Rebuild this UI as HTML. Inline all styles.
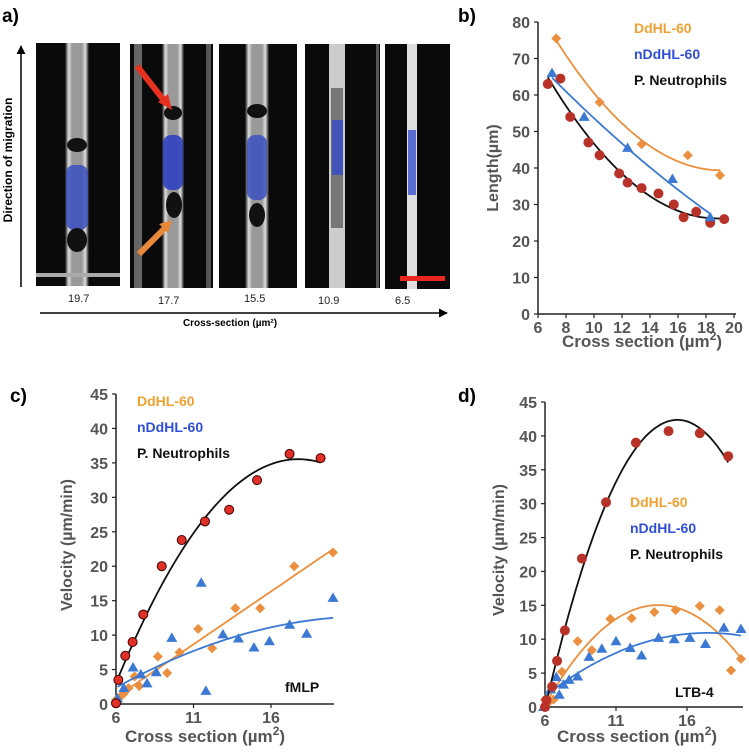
<!DOCTYPE html>
<html><head><meta charset="utf-8">
<style>
html,body{margin:0;padding:0;background:#fff;}
body{width:749px;height:750px;overflow:hidden;font-family:"Liberation Sans",Arial,sans-serif;}
svg text{font-family:"Liberation Sans",Arial,sans-serif;}
</style></head>
<body>
<svg id="fig" width="749" height="750" viewBox="0 0 749 750" xmlns="http://www.w3.org/2000/svg">
<defs>
<linearGradient id="chan" x1="0" x2="1" y1="0" y2="0">
<stop offset="0" stop-color="#111"/><stop offset="0.15" stop-color="#ddd"/><stop offset="0.3" stop-color="#999"/><stop offset="0.7" stop-color="#999"/><stop offset="0.85" stop-color="#ddd"/><stop offset="1" stop-color="#111"/>
</linearGradient>
<marker id="ah" viewBox="0 0 10 10" refX="9" refY="5" markerWidth="6" markerHeight="6" orient="auto"><path d="M0,0 L10,5 L0,10 z" fill="#000"/></marker>
</defs>
<g id="panelA">
<text x="2" y="22" font-size="19" font-weight="bold">a)</text>
<rect x="36" y="43" width="84" height="243" fill="#0a0a0a"/>
<rect x="65" y="43" width="24" height="243" fill="url(#chan)"/>
<ellipse cx="77" cy="145" rx="10" ry="7" fill="#111"/>
<rect x="66" y="165" width="22" height="65" rx="8" fill="#3a4fc0" opacity="0.85"/>
<ellipse cx="77" cy="240" rx="10" ry="12" fill="#111"/>
<rect x="36" y="273" width="84" height="4" fill="#aaa"/>
<rect x="130" y="44" width="83" height="244" fill="#0a0a0a"/>
<rect x="134" y="44" width="8" height="244" fill="#666"/>
<rect x="162" y="44" width="22" height="244" fill="url(#chan)"/>
<rect x="206" y="44" width="5" height="244" fill="#555"/>
<ellipse cx="173" cy="113" rx="9" ry="7" fill="#111"/>
<rect x="163" y="135" width="20" height="55" rx="8" fill="#3040c0" opacity="0.9"/>
<ellipse cx="174" cy="205" rx="8" ry="13" fill="#111"/>
<rect x="219" y="44" width="78" height="244" fill="#0a0a0a"/>
<rect x="245" y="44" width="24" height="244" fill="url(#chan)"/>
<ellipse cx="257" cy="111" rx="10" ry="7" fill="#111"/>
<rect x="247" y="135" width="20" height="65" rx="8" fill="#3a4fc0" opacity="0.85"/>
<ellipse cx="257" cy="215" rx="8" ry="12" fill="#111"/>
<rect x="305" y="44" width="75" height="244" fill="#0a0a0a"/>
<rect x="329" y="44" width="16" height="244" fill="#ccc"/>
<rect x="331" y="88" width="12" height="140" fill="#777"/>
<rect x="332" y="120" width="11" height="55" fill="#3a4fc0" opacity="0.9"/>
<rect x="376" y="44" width="3" height="244" fill="#555"/>
<rect x="385" y="44" width="65" height="245" fill="#0a0a0a"/>
<rect x="407" y="44" width="10" height="245" fill="#ddd"/>
<rect x="408" y="130" width="8" height="65" fill="#4a5fd0" opacity="0.9"/>
<rect x="400" y="276" width="45" height="5" fill="#e8281e"/>
<line x1="137" y1="66" x2="166" y2="103" stroke="#e8301e" stroke-width="6"/>
<path d="M172,110 L158,102 L168,94 Z" fill="#e8301e"/>
<line x1="139" y1="254" x2="166" y2="227" stroke="#e8883a" stroke-width="6"/>
<path d="M172,220 L159,224 L168,233 Z" fill="#e8883a"/>
<g font-family="Liberation Serif" font-size="11" fill="#222">
<text x="68" y="302">19.7</text>
<text x="158" y="304">17.7</text>
<text x="244" y="302">15.5</text>
<text x="318" y="304">10.9</text>
<text x="395" y="304">6.5</text>
</g>
<line x1="40" y1="313" x2="447" y2="313" stroke="#000" stroke-width="1.5" marker-end="url(#ah)"/>
<text x="230" y="326" font-size="10" font-weight="bold" text-anchor="middle">Cross-section (µm²)</text>
<line x1="21" y1="287" x2="21" y2="46" stroke="#000" stroke-width="1.5" marker-end="url(#ah)"/>
<text transform="translate(12,160) rotate(-90)" font-size="12" font-weight="bold" text-anchor="middle">Direction of migration</text>
</g>
<g id="panelB"></g><g id="panelC"></g><g id="panelD"></g>
</svg>
<script>
// ---------- Panel b data ----------
const bOrangeX=[7.3,10.4,13.4,16.7,19];
const bOrangeY=[75.5,58,46.5,43.5,38];
const bBlueX=[7,9.3,12.4,15.6,18.3];
const bBlueY=[66,54,45.5,37,26.5];
const bBlackX=[6.7,7.6,8.3,9.6,10.4,11.8,12.4,13.4,14.6,15.7,16.4,17.3,18.3,19.3];
const bBlackY=[63,64.5,54,47,43.5,38.5,36,34.5,33,30,26.5,28,25,26];
const bXTicks=[6,8,10,12,14,16,18,20];
const bYTicks=[0,10,20,30,40,50,60,70,80];
// ---------- Panel c data ----------
const cBlackX=[6,6.15,6.6,7.07,7.76,8.95,10.24,11.74,13.3,15.1,17.2,19.2];
const cBlackY=[0.1,3.5,7,9,13,20,23.8,26.5,28.2,32.5,36.3,35.7];
const cOrangeX=[6,6.3,6.5,6.8,7.2,7.5,8.7,9.3,10.1,11.3,12.2,13.7,15.3,17.5,20];
const cOrangeY=[0.6,1.1,1.5,2.3,4,2.6,6.9,4.5,7.5,10.9,8.1,13.9,13.9,20,22];
const cBlueX=[6.1,6.5,7.1,7.6,8,8.6,9.6,11.5,11.8,12.9,13.9,14.9,15.9,17.2,18.3,20];
const cBlueY=[0.8,2.3,5.3,4.3,3,4.6,9.6,17.6,1.9,10.1,9.5,8.2,9.1,11.5,10.2,15.4];
const cXTicks=[6,11,16];
const cYTicks=[0,5,10,15,20,25,30,35,40,45];
// ---------- Panel d data ----------
const dBlackX=[6,6.1,6.5,6.85,7.4,8.6,10.3,12.4,14.7,16.9,18.9];
const dBlackY=[0,1,3,6.8,11.3,21.9,30.2,39,40.7,40.4,37];
const dOrangeX=[6,6.3,6.6,7.2,8.3,9.3,10.6,12.1,13.7,15.2,16.9,18.3,19.1,19.8];
const dOrangeY=[1.1,0.8,1.1,5.2,9.7,8.4,13,13.1,14,14.3,14.9,14.3,5.4,7.1];
const dBlueX=[5.9,6.4,6.8,7,7.3,7.7,8.3,9.1,10,11,12,12.8,14,15.1,16.2,17.3,18.6,19.8];
const dBlueY=[0,2.6,4.4,1.8,3.3,4,4.5,7.4,8.6,9.7,8.7,7.6,10.2,10,10.2,9.3,11.7,11.5];
const dXTicks=[6,11,16];
const dYTicks=[0,5,10,15,20,25,30,35,40,45];

const NS='http://www.w3.org/2000/svg';
function mk(parent,tag,attrs){const e=document.createElementNS(NS,tag);for(const k in attrs)e.setAttribute(k,attrs[k]);parent.appendChild(e);return e;}
function polyfit(xs,ys,deg){
  const n=deg+1;const A=[];for(let i=0;i<n;i++){A.push(new Array(n+1).fill(0));}
  for(let k=0;k<xs.length;k++){for(let i=0;i<n;i++){for(let j=0;j<n;j++)A[i][j]+=Math.pow(xs[k],i+j);A[i][n]+=ys[k]*Math.pow(xs[k],i);}}
  for(let i=0;i<n;i++){let p=i;for(let r=i+1;r<n;r++)if(Math.abs(A[r][i])>Math.abs(A[p][i]))p=r;[A[i],A[p]]=[A[p],A[i]];
    for(let r=0;r<n;r++){if(r===i)continue;const f=A[r][i]/A[i][i];for(let c=i;c<=n;c++)A[r][c]-=f*A[i][c];}}
  const co=[];for(let i=0;i<n;i++)co.push(A[i][n]/A[i][i]);
  return x=>co.reduce((s,c,i)=>s+c*Math.pow(x,i),0);
}
function marker(g,type,cx,cy,fill,stroke){
  let e;
  if(type==='circle'){e=mk(g,'circle',{cx:cx,cy:cy,r:4.5,fill:fill,stroke:stroke,'stroke-width':1});}
  else if(type==='diamond'){e=mk(g,'path',{d:`M${cx},${cy-5}L${cx+5},${cy}L${cx},${cy+5}L${cx-5},${cy}Z`,fill:fill});}
  else {e=mk(g,'path',{d:`M${cx},${cy-5.5}L${cx+5.5},${cy+4}L${cx-5.5},${cy+4}Z`,fill:fill});}
  return e;
}
function chart(gid,cfg){
  const g=document.getElementById(gid);
  const sx=v=>cfg.x0+(v-cfg.xmin)*(cfg.x1-cfg.x0)/(cfg.xmax-cfg.xmin);
  const sy=v=>cfg.y0-(v-cfg.ymin)*(cfg.y0-cfg.y1)/(cfg.ymax-cfg.ymin);
  const ax=mk(g,'line',{x1:cfg.x0,y1:cfg.y0,x2:cfg.xend,y2:cfg.y0,stroke:'#222','stroke-width':1.5});
  
  
  const ay=mk(g,'line',{x1:cfg.x0,y1:cfg.y0,x2:cfg.x0,y2:cfg.y1,stroke:'#222','stroke-width':1.5});
  
  
  cfg.yt.forEach(v=>{
    mk(g,'line',{x1:cfg.x0-4,y1:sy(v),x2:cfg.x0,y2:sy(v),stroke:'#222','stroke-width':1.2});
    const t=mk(g,'text',{x:cfg.x0-8,y:sy(v)+6,'text-anchor':'end','font-size':16,'font-weight':'bold',fill:'#555'});
    t.textContent=v;
    
    
  });
  cfg.xt.forEach(v=>{
    mk(g,'line',{x1:sx(v),y1:cfg.y0,x2:sx(v),y2:cfg.y0+4,stroke:'#222','stroke-width':1.2});
    const t=mk(g,'text',{x:sx(v),y:cfg.y0+19,'text-anchor':'middle','font-size':16,'font-weight':'bold',fill:'#555'});
    t.textContent=v;
    
    
  });
  cfg.series.forEach(s=>{
    const f=polyfit(s.x,s.y,s.deg);
    const a=s.from!==undefined?s.from:Math.min(...s.x), b=s.to!==undefined?s.to:Math.max(...s.x);
    let d='';for(let i=0;i<=60;i++){const xv=a+(b-a)*i/60;d+=(i?'L':'M')+sx(xv).toFixed(1)+','+sy(f(xv)).toFixed(1);}
    const ln=mk(g,'path',{d:d,fill:'none',stroke:s.line,'stroke-width':1.8});
    
    
    s.x.forEach((xv,i)=>{
      const m=marker(g,s.type,sx(xv),sy(s.y[i]),s.fill,s.stroke);
      
      
    });
  });
  const lab=(txt,x,y,size,fill,anchor,name,rot)=>{
    const t=mk(g,'text',{x:x,y:y,'font-size':size,'font-weight':'bold',fill:fill,'text-anchor':anchor||'start'});
    if(rot)t.setAttribute('transform',`rotate(-90 ${x} ${y})`);
    t.textContent=txt;
    
    
    return t;
  };
  lab(cfg.label,cfg.lx,cfg.ly,19,'#000','start',cfg.p+'-label');
  lab(cfg.yTitle,cfg.ytx,cfg.yty,16,'#555','middle',cfg.p+'-y-axis-title',true);
  const xt=mk(g,'text',{x:cfg.xtx,y:cfg.xty,'font-size':17,'font-weight':'bold',fill:'#555','text-anchor':'middle'});
  xt.innerHTML='Cross section (µm<tspan font-size="12" dy="-7">2</tspan><tspan dy="7">)</tspan>';
  
  
  lab('DdHL-60',cfg.legx,cfg.legy,14,'#f0a132','start',cfg.p+'-legend-ddhl60');
  lab('nDdHL-60',cfg.legx,cfg.legy+26,14,'#2f4fd8','start',cfg.p+'-legend-nddhl60');
  lab('P. Neutrophils',cfg.legx,cfg.legy+52,14,'#111','start',cfg.p+'-legend-neutrophils');
  if(cfg.note)lab(cfg.note,cfg.notex,cfg.notey,14,'#111','start',cfg.p+'-condition-label');
}
const OR='#ec8f3e', BL='#3b79d4';
chart('panelB',{p:'panel-b',x0:538,x1:734,xend:736,xmin:6,xmax:20,y0:314,y1:22,ymin:0,ymax:80,xt:bXTicks,yt:bYTicks,
  label:'b)',lx:458,ly:22,yTitle:'Length(µm)',ytx:498,yty:168,xtx:642,xty:347,legx:634,legy:33,
  series:[
   {name:'neutrophils',x:bBlackX,y:bBlackY,deg:2,type:'circle',fill:'#b8322a',stroke:'#b8322a',line:'#111'},
   {name:'nddhl60',x:bBlueX,y:bBlueY,deg:2,type:'tri',fill:BL,line:BL},
   {name:'ddhl60',x:bOrangeX,y:bOrangeY,deg:2,type:'diamond',fill:OR,line:OR}]});
chart('panelC',{p:'panel-c',x0:116,x1:271,xend:334,xmin:6,xmax:16,y0:704,y1:394,ymin:0,ymax:45,xt:cXTicks,yt:cYTicks,
  label:'c)',lx:10,ly:402,yTitle:'Velocity (µm/min)',ytx:72,yty:545,xtx:205,xty:742,legx:137,legy:406,
  note:'fMLP',notex:285,notey:692,
  series:[
   {name:'ddhl60',x:cOrangeX,y:cOrangeY,deg:1,type:'diamond',fill:OR,line:OR},
   {name:'nddhl60',x:cBlueX,y:cBlueY,deg:2,type:'tri',fill:BL,line:BL},
   {name:'neutrophils',x:cBlackX,y:cBlackY,deg:2,type:'circle',fill:'#e03028',stroke:'#400',line:'#111'}]});
chart('panelD',{p:'panel-d',x0:545,x1:687,xend:743,xmin:6,xmax:16,y0:707,y1:402,ymin:0,ymax:45,xt:dXTicks,yt:dYTicks,
  label:'d)',lx:458,ly:402,yTitle:'Velocity (µm/min)',ytx:504,yty:550,xtx:637,xty:742,legx:630,legy:507,
  note:'LTB-4',notex:675,notey:697,
  series:[
   {name:'ddhl60',x:dOrangeX,y:dOrangeY,deg:2,type:'diamond',fill:OR,line:OR},
   {name:'nddhl60',x:dBlueX,y:dBlueY,deg:2,type:'tri',fill:BL,line:BL},
   {name:'neutrophils',x:dBlackX,y:dBlackY,deg:2,type:'circle',fill:'#b8322a',stroke:'#b8322a',line:'#111'}]});
</script>
</body></html>
